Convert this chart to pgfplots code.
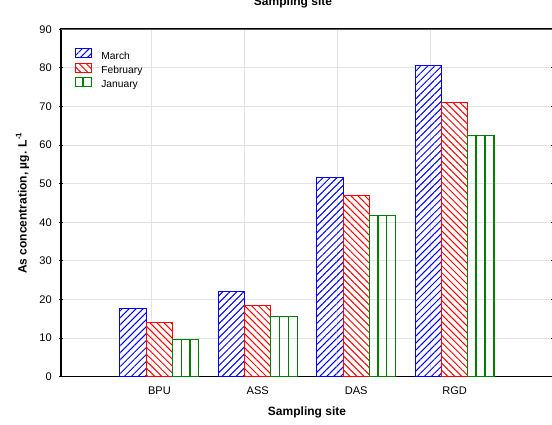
\documentclass[border=0pt]{standalone}
\usepackage{fontspec}
\setmainfont{Liberation Sans}
\usepackage{pgfplots}
\pgfplotsset{compat=1.18}
\usetikzlibrary{patterns.meta}
\definecolor{dgreen}{RGB}{0,128,0}
\begin{document}
\begin{tikzpicture}
\path[use as bounding box] (-45.75pt,-35.625pt) rectangle (368.25pt,282.375pt);
\begin{axis}[
  at={(0,0)}, anchor=south west,
  scale only axis, width=369pt, height=260.4pt,
  xmin=0, xmax=5, ymin=0, ymax=90,
  clip=false,
  ybar, bar width=0.2675,
  ytick={0,10,...,90},
  xtick={1,2,3,4}, xticklabels={BPU,ASS,DAS,RGD},
  xtick style={draw=none},
  extra x ticks={0.919,1.865,2.811,3.757},
  extra x tick labels={},
  extra x tick style={grid=major, major tick length=0pt},
  ymajorgrids=true,
  major grid style={gray!22, line width=0.6pt},
  ytick pos=both, yticklabel pos=left,
  tick align=center, major tick length=3pt,
  ytick style={black, line width=0.6pt},
  axis line style={line width=1.3pt, black},
  /pgf/number format/assume math mode=true,
  ticklabel style={font=\fontsize{8.3}{10}\selectfont},
  yticklabel style={anchor=east, inner sep=0pt, xshift=-5.25pt},
  xticklabel style={anchor=base, inner sep=0pt, yshift=-12.2pt},
  xlabel={\bfseries Sampling site},
  xlabel style={at={(axis description cs:0.5,-0.1022)}, anchor=center, font=\fontsize{9}{11}\selectfont},
  ylabel={\bfseries As concentration, µg. L\textsuperscript{-1}},
  ylabel style={at={(axis description cs:-0.0783,0.5)}, anchor=center, font=\fontsize{9}{11}\selectfont},
  legend style={at={(axis description cs:0.0285,0.946)}, anchor=north west,
    draw=none, fill=none, inner sep=0pt, row sep=0pt, column sep=6pt,
    font=\fontsize{7.7}{9}\selectfont,
    nodes={inner sep=1pt, text height=5.6pt, text depth=1.6pt}},
  legend cell align=left,
  legend image code/.code={\draw[#1,bar shift=0pt] (0pt,-1pt) rectangle (11.8pt,5.8pt);},
]
\addplot[bar shift=-0.2675, draw=blue, line width=0.75pt,
  pattern={Lines[angle=45,distance=3.7pt,line width=0.75pt]}, pattern color=blue]
  coordinates {(1,17.7) (2,22.1) (3,51.7) (4,80.5)};
\addplot[bar shift=0, draw=red, line width=0.75pt,
  pattern={Lines[angle=-45,distance=3.7pt,line width=0.75pt]}, pattern color=red]
  coordinates {(1,14.1) (2,18.5) (3,47.0) (4,71.1)};
\addplot[bar shift=0.2675, draw=dgreen, line width=0.75pt,
  pattern={Lines[angle=90,distance=6.7pt,line width=1.1pt,xshift=1.95pt,yshift=-1.95pt]}, pattern color=dgreen]
  coordinates {(1,9.7) (2,15.6) (3,41.8) (4,62.5)};
\legend{March,February,January}
\draw[line width=1.1pt, black!65] (rel axis cs:0,1) -- (rel axis cs:1,1);
\end{axis}
\node[font=\bfseries\fontsize{9}{11}\selectfont, anchor=base] at (174pt,278.25pt) {Sampling site};
\end{tikzpicture}
\end{document}
